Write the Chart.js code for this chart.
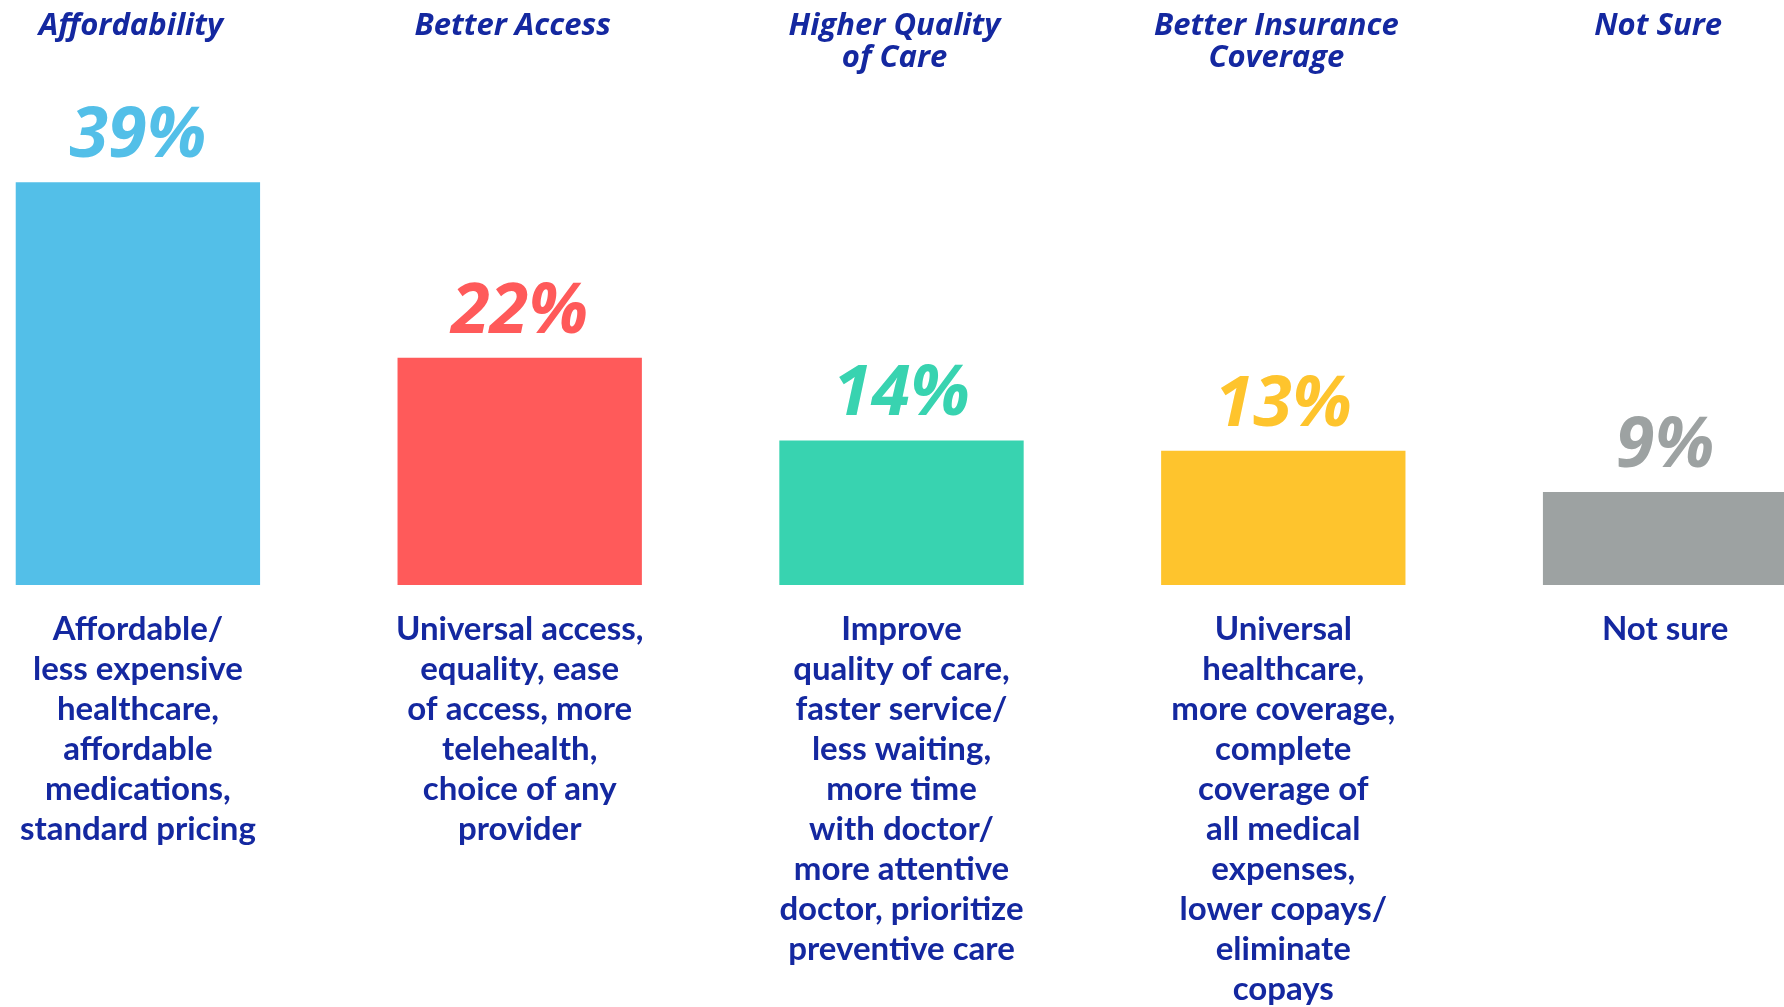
<!DOCTYPE html>
<html>
<head>
<meta charset="utf-8">
<script src="https://cdn.jsdelivr.net/npm/chart.js@4"></script>
<style>
  html, body { margin: 0; padding: 0; background: #fff; overflow: hidden; }
  #wrap { position: absolute; left: -53px; top: 0; }
</style>
</head>
<body>
<div id="wrap"><canvas id="chartPriorities" width="1909" height="1033"></canvas></div>
<script>
const headers = [
  "Affordability",
  "Better Access",
  ["Higher Quality", "of Care"],
  ["Better Insurance", "Coverage"],
  "Not Sure",
];
const descriptions = [
  ["Affordable/", "less expensive", "healthcare,", "affordable", "medications,", "standard pricing"],
  ["Universal access,", "equality, ease", "of access, more", "telehealth,", "choice of any", "provider"],
  ["Improve", "quality of care,", "faster service/", "less waiting,", "more time", "with doctor/", "more attentive", "doctor, prioritize", "preventive care"],
  ["Universal", "healthcare,", "more coverage,", "complete", "coverage of", "all medical", "expenses,", "lower copays/", "eliminate", "copays"],
  ["Not sure"],
];
const shares = [39, 22, 14, 13, 9];
const barColors = ["#53bfe8", "#ff5a5a", "#38d3b0", "#fec42d", "#9da2a2"];

const textBlue = "#1428a0";

// percentage labels above each bar
const valueLabels = {
  id: "valueLabels",
  afterDatasetsDraw(chart) {
    const ctx = chart.ctx;
    const meta = chart.getDatasetMeta(0);
    ctx.save();
    ctx.font = "italic bold 70px 'Open Sans'";
    ctx.textAlign = "center";
    ctx.textBaseline = "alphabetic";
    meta.data.forEach((bar, i) => {
      ctx.fillStyle = barColors[i];
      ctx.fillText(shares[i] + "%", bar.x, bar.y - 25);
    });
    ctx.restore();
  },
};

const ctxPriorities = document.getElementById("chartPriorities").getContext("2d");
const prioritiesChart = new Chart(ctxPriorities, {
  type: "bar",
  data: {
    labels: descriptions,
    datasets: [
      {
        data: shares,
        backgroundColor: barColors,
        borderWidth: 0,
        barPercentage: 0.64,
        categoryPercentage: 1,
      },
    ],
  },
  options: {
    responsive: false,
    animation: false,
    devicePixelRatio: 1,
    layout: { padding: 0 },
    plugins: { legend: { display: false }, tooltip: { enabled: false } },
    scales: {
      x: {
        position: "bottom",
        offset: true,
        grid: { display: false, drawTicks: false },
        border: { display: false },
        ticks: {
          autoSkip: false,
          maxRotation: 0,
          minRotation: 0,
          padding: 24,
          color: textBlue,
          font: { family: "Lato", weight: "bold", size: 33, lineHeight: 40 / 33 },
        },
      },
      x2: {
        type: "category",
        labels: headers,
        position: "top",
        offset: true,
        grid: { display: false, drawTicks: false },
        border: { display: false },
        ticks: {
          autoSkip: false,
          maxRotation: 0,
          minRotation: 0,
          crossAlign: "far",
          labelOffset: -7,
          padding: 10,
          color: textBlue,
          font: { family: "Open Sans", style: "italic", weight: "bold", size: 31, lineHeight: 32 / 31 },
        },
      },
      y: {
        display: false,
        min: 0,
        max: 48.5,
      },
    },
  },
  plugins: [valueLabels],
});
</script>
</body>
</html>
